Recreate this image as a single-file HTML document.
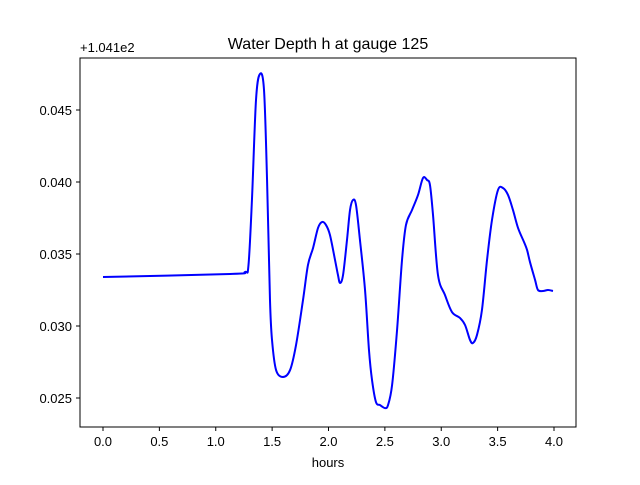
<!DOCTYPE html>
<html><head><meta charset="utf-8"><style>
body{margin:0;background:#fff;}
svg text{font-family:"Liberation Sans","DejaVu Sans",sans-serif;}
</style></head><body>
<svg width="640" height="480">
<rect x="0" y="0" width="640" height="480" fill="#fff"/>
<text x="328" y="49" text-anchor="middle" font-size="16">Water Depth h at gauge 125</text>
<text x="80" y="52" font-size="13">+1.041e2</text>
<g id="xt"></g>
<g id="yt"></g>
<path id="line" fill="none" stroke="#0000ff" stroke-width="2" stroke-linejoin="round"/>
<rect x="80" y="58" width="496" height="369" fill="none" stroke="#000" stroke-width="1"/>
<text x="328" y="467" text-anchor="middle" font-size="13">hours</text>
</svg>
<script>
const hours=[0,1.126,1.259,1.29,1.321,1.357,1.392,1.428,1.455,1.481,1.499,1.535,1.596,1.659,1.712,1.774,1.818,1.863,1.907,1.942,1.978,2.013,2.058,2.084,2.102,2.129,2.164,2.191,2.217,2.244,2.279,2.324,2.359,2.386,2.421,2.457,2.501,2.528,2.564,2.608,2.652,2.687,2.741,2.794,2.838,2.874,2.9,2.927,2.971,3.033,3.095,3.166,3.211,3.255,3.282,3.317,3.361,3.406,3.45,3.503,3.548,3.592,3.636,3.681,3.734,3.761,3.787,3.832,3.858,3.902,3.947,3.991];
const depth=[0.0334,0.03361,0.03375,0.0342,0.03875,0.04569,0.0475,0.04639,0.04014,0.03181,0.02903,0.02694,0.02646,0.02694,0.02868,0.03181,0.03424,0.03542,0.03681,0.03722,0.03701,0.03632,0.03458,0.03354,0.03299,0.03354,0.03597,0.03806,0.03875,0.0384,0.03597,0.0325,0.02833,0.02625,0.02472,0.02451,0.0243,0.02451,0.0259,0.02972,0.03458,0.03701,0.03806,0.0391,0.04028,0.04014,0.03979,0.03771,0.03354,0.03215,0.03097,0.03056,0.03007,0.02903,0.02882,0.02938,0.03111,0.03458,0.03736,0.03944,0.03958,0.0391,0.03806,0.03681,0.03583,0.03528,0.03444,0.0332,0.0325,0.03243,0.0325,0.03243];
const xTicks=[0,0.5,1,1.5,2,2.5,3,3.5,4];
const xLabels=["0.0","0.5","1.0","1.5","2.0","2.5","3.0","3.5","4.0"];
const yTicks=[0.025,0.03,0.035,0.04,0.045];
const yLabels=["0.025","0.030","0.035","0.040","0.045"];
const X=v=>103+v*112.75, Y=v=>110+(0.045-v)*14400;
const NS="http://www.w3.org/2000/svg";
const xt=document.getElementById('xt'), yt=document.getElementById('yt');
xTicks.forEach((t,i)=>{
 const l=document.createElementNS(NS,'line');
 
 
 l.setAttribute('x1',X(t));l.setAttribute('x2',X(t));l.setAttribute('y1',427);l.setAttribute('y2',431);l.setAttribute('stroke','#000');
 xt.appendChild(l);
 const s=document.createElementNS(NS,'text');
 
 
 s.setAttribute('x',X(t));s.setAttribute('y',446);s.setAttribute('text-anchor','middle');s.setAttribute('font-size','13');
 s.textContent=xLabels[i];xt.appendChild(s);
});
yTicks.forEach((t,i)=>{
 const l=document.createElementNS(NS,'line');
 
 
 l.setAttribute('x1',76);l.setAttribute('x2',80);l.setAttribute('y1',Y(t));l.setAttribute('y2',Y(t));l.setAttribute('stroke','#000');
 yt.appendChild(l);
 const s=document.createElementNS(NS,'text');
 
 
 s.setAttribute('x',72);s.setAttribute('y',Y(t)+5);s.setAttribute('text-anchor','end');s.setAttribute('font-size','13');
 s.textContent=yLabels[i];yt.appendChild(s);
});
const p=hours.map((h,i)=>[X(h),Y(depth[i])]);
let d='M'+p[0][0]+','+p[0][1];
for(let i=0;i<p.length-1;i++){
 const p0=p[Math.max(i-1,0)],p1=p[i],p2=p[i+1],p3=p[Math.min(i+2,p.length-1)];
 d+=' C'+(p1[0]+(p2[0]-p0[0])/6)+','+(p1[1]+(p2[1]-p0[1])/6)+' '+(p2[0]-(p3[0]-p1[0])/6)+','+(p2[1]-(p3[1]-p1[1])/6)+' '+p2[0]+','+p2[1];
}
document.getElementById('line').setAttribute('d',d);
</script>
</body></html>
